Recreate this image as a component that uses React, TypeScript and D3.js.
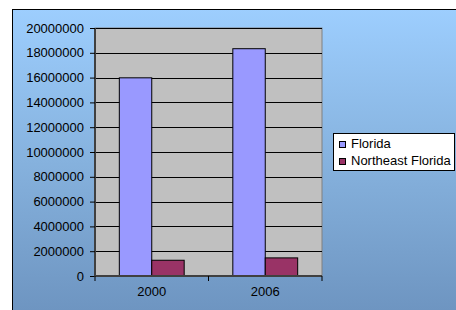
import React, { useEffect, useRef } from 'react';
import * as d3 from 'd3';

const W = 456, H = 310;
const PLOT = { left: 95, top: 28, right: 322, bottom: 276 };
const FONT = '"Liberation Sans", Arial, sans-serif';

const years = ['2000', '2006'];
const seriesNames = ['Florida', 'Northeast Florida'];
const florida = [15982000, 18330000];
const northeastFlorida = [1270000, 1460000];
const yTicks = [0, 2000000, 4000000, 6000000, 8000000, 10000000, 12000000, 14000000, 16000000, 18000000, 20000000];
const colors = ['#9999FF', '#993366'];

export default function App() {
  const ref = useRef<SVGSVGElement | null>(null);

  useEffect(() => {
    const svg = d3.select(ref.current);
    svg.selectAll('*').remove();

    // background
    const defs = svg.append('defs');
    const grad = defs.append('linearGradient').attr('id', 'bg').attr('x1', 0).attr('y1', 0).attr('x2', 0).attr('y2', 1);
    grad.append('stop').attr('offset', '0%').attr('stop-color', '#9DCEFE');
    grad.append('stop').attr('offset', '50%').attr('stop-color', '#86B2DE');
    grad.append('stop').attr('offset', '100%').attr('stop-color', '#6E95C1');

    svg.append('rect').attr('x', 0).attr('y', 0).attr('width', W).attr('height', H).attr('fill', '#fff');
    svg.append('rect').attr('x', 12).attr('y', 9).attr('width', W - 12).attr('height', H - 9).attr('fill', 'url(#bg)');
    svg.append('line').attr('x1', 12.5).attr('x2', 12.5).attr('y1', 9).attr('y2', H).attr('stroke', '#000');
    svg.append('line').attr('x1', 12).attr('x2', W).attr('y1', 9.5).attr('y2', 9.5).attr('stroke', '#000');

    const x = d3.scaleBand().domain(years).range([PLOT.left, PLOT.right]);
    const y = d3.scaleLinear().domain([0, 20000000]).range([PLOT.bottom, PLOT.top]);

    // plot area
    svg.append('rect')
      .attr('x', PLOT.left).attr('y', PLOT.top)
      .attr('width', PLOT.right - PLOT.left).attr('height', PLOT.bottom - PLOT.top)
      .attr('fill', '#C0C0C0').attr('stroke', '#808080').attr('stroke-width', 1);

    // gridlines
    svg.append('g').selectAll('line').data(yTicks.filter(d => d > 0)).join('line')
      .attr('x1', PLOT.left).attr('x2', PLOT.right)
      .attr('y1', d => Math.round(y(d)) + 0.5).attr('y2', d => Math.round(y(d)) + 0.5)
      .attr('stroke', '#000').attr('stroke-width', 1);

    // bars
    const bw = x.bandwidth() / 3.5;
    const data = [florida, northeastFlorida];
    data.forEach((vals, si) => {
      svg.append('g').selectAll('rect').data(vals).join('rect')
        .attr('x', (_, i) => (x(years[i]) as number) + 0.75 * bw + si * bw)
        .attr('y', d => y(d))
        .attr('width', bw)
        .attr('height', d => PLOT.bottom - y(d))
        .attr('fill', colors[si]).attr('stroke', '#000').attr('stroke-width', 1);
    });

    // y axis
    const yAxis = svg.append('g').attr('transform', `translate(${PLOT.left},0)`)
      .call(d3.axisLeft(y).tickValues(yTicks).tickSize(5).tickPadding(6).tickFormat(d => String(d)));
    yAxis.select('.domain').attr('stroke', '#404040').attr('stroke-width', 2).attr('d', `M0,${PLOT.top}V${PLOT.bottom}`);
    yAxis.selectAll('.tick line').attr('stroke', '#000');
    yAxis.selectAll('text').attr('fill', '#000').attr('font-size', '13px').attr('font-family', FONT);

    // x axis
    const xAxis = svg.append('g').attr('transform', `translate(0,${PLOT.bottom})`);
    xAxis.append('line').attr('x1', PLOT.left - 1).attr('x2', PLOT.right)
      .attr('y1', 0).attr('y2', 0).attr('stroke', '#404040').attr('stroke-width', 2);
    const bounds = [PLOT.left, (x(years[1]) as number), PLOT.right];
    xAxis.selectAll('line.tk').data(bounds).join('line').attr('class', 'tk')
      .attr('x1', d => d).attr('x2', d => d).attr('y1', 0).attr('y2', 5)
      .attr('stroke', '#000');
    xAxis.selectAll('text').data(years).join('text')
      .attr('x', d => (x(d) as number) + x.bandwidth() / 2).attr('y', 20)
      .attr('text-anchor', 'middle').attr('font-size', '13px').attr('font-family', FONT).attr('fill', '#000')
      .text(d => d);

    // legend
    const lg = svg.append('g');
    lg.append('rect').attr('x', 333.5).attr('y', 133.5).attr('width', 121).attr('height', 37)
      .attr('fill', '#fff').attr('stroke', '#000');
    seriesNames.forEach((name, i) => {
      const ly = 141 + i * 17;
      lg.append('rect').attr('x', 339.5).attr('y', ly + 0.5).attr('width', 6).attr('height', 6)
        .attr('fill', colors[i]).attr('stroke', '#000');
      lg.append('text').attr('x', 351).attr('y', ly + 6.5)
        .attr('font-size', '13px').attr('font-family', FONT).attr('fill', '#000').text(name);
    });
  }, []);

  return (
    <svg ref={ref} width={W} height={H}
      style={{ position: 'absolute', left: 0, top: 0, display: 'block' }} />
  );
}
